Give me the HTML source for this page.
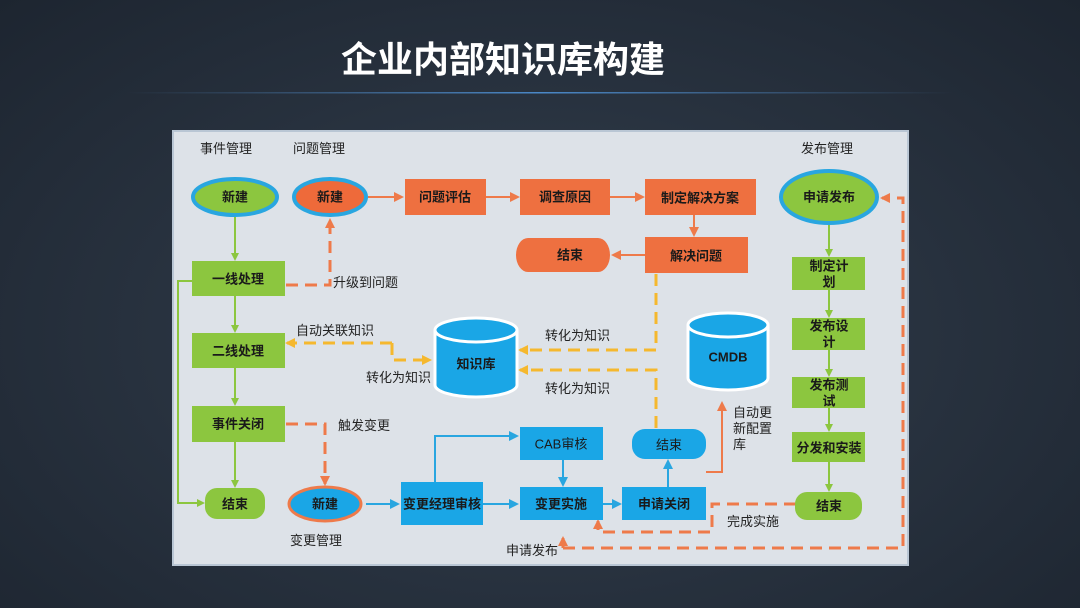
<!DOCTYPE html>
<html><head><meta charset="utf-8"><style>
html,body{margin:0;padding:0;width:1080px;height:608px;overflow:hidden;background:#222d3a}
body{background:radial-gradient(ellipse at 50% 55%,#34414f 0%,#28323f 50%,#1d2530 100%)}
svg{position:absolute;left:0;top:0}
text{font-family:"Liberation Sans","Noto Sans CJK SC",sans-serif}
.b{font-weight:bold;font-size:13px;text-anchor:middle;dominant-baseline:central;fill:#1a1a1a}
.l{font-size:13px;fill:#222}
</style></head><body>
<svg width="1080" height="608" viewBox="0 0 1080 608">
<defs>
<linearGradient id="ul" x1="0" x2="1"><stop offset="0" stop-color="#4a78a8" stop-opacity="0"/><stop offset="0.5" stop-color="#4a88c8"/><stop offset="1" stop-color="#4a78a8" stop-opacity="0"/></linearGradient>
<marker id="ag" markerWidth="8" markerHeight="8" refX="6" refY="4" orient="auto" markerUnits="userSpaceOnUse"><path d="M0,0 L8,4 L0,8z" fill="#8cc63f"/></marker>
<marker id="ao" markerWidth="10" markerHeight="10" refX="8" refY="5" orient="auto" markerUnits="userSpaceOnUse"><path d="M0,0 L10,5 L0,10z" fill="#ee7a4a"/></marker>
<marker id="ay" markerWidth="10" markerHeight="10" refX="8" refY="5" orient="auto" markerUnits="userSpaceOnUse"><path d="M0,0 L10,5 L0,10z" fill="#f5b82e"/></marker>
<marker id="ab" markerWidth="10" markerHeight="10" refX="8" refY="5" orient="auto" markerUnits="userSpaceOnUse"><path d="M0,0 L10,5 L0,10z" fill="#29a6e0"/></marker>
</defs>
<text x="503" y="72" font-size="36" font-weight="bold" fill="#fff" text-anchor="middle">企业内部知识库构建</text>
<rect x="125" y="92" width="830" height="1.5" fill="url(#ul)"/>
<rect x="173" y="131" width="735" height="434" fill="#dde2e8" stroke="#b9c6d4" stroke-width="2"/>

<text class="l" x="200" y="153">事件管理</text>
<text class="l" x="293" y="153">问题管理</text>
<text class="l" x="801" y="153">发布管理</text>

<g stroke="#8cc63f" stroke-width="2" fill="none" marker-end="url(#ag)">
<line x1="235" y1="217" x2="235" y2="259"/>
<line x1="235" y1="296" x2="235" y2="331"/>
<line x1="235" y1="368" x2="235" y2="404"/>
<line x1="235" y1="442" x2="235" y2="486"/>
<polyline points="192,281 178,281 178,503 203,503"/>
<line x1="829" y1="224" x2="829" y2="255"/>
<line x1="829" y1="290" x2="829" y2="316"/>
<line x1="829" y1="350" x2="829" y2="375"/>
<line x1="829" y1="408" x2="829" y2="430"/>
<line x1="829" y1="462" x2="829" y2="490"/>
</g>
<g stroke="#ee7a4a" stroke-width="2" fill="none" marker-end="url(#ao)">
<line x1="368" y1="197" x2="402" y2="197"/>
<line x1="486" y1="197" x2="518" y2="197"/>
<line x1="610" y1="197" x2="643" y2="197"/>
<line x1="694" y1="215" x2="694" y2="235"/>
<line x1="645" y1="255" x2="613" y2="255"/>
<polyline points="706,472 722,472 722,403"/>
</g>
<g stroke="#ee7a4a" stroke-width="3" fill="none" stroke-dasharray="12,7" marker-end="url(#ao)">
<polyline points="286,285 330,285 330,220"/>
<polyline points="286,424 325,424 325,484"/>
<polyline points="796,504 712,504 712,532 598,532 598,521"/>
<polyline points="563,548 903,548 903,198 882,198"/>
<polyline points="563,548 563,538"/>
</g>
<g stroke="#f5b82e" stroke-width="3" fill="none" stroke-dasharray="12,7" marker-end="url(#ay)">
<polyline points="656,274 656,350 520,350"/>
<polyline points="656,428 656,370 520,370"/>
<polyline points="392,343 392,360 430,360"/>
<polyline points="392,343 287,343"/>
</g>
<g stroke="#29a6e0" stroke-width="2" fill="none" marker-end="url(#ab)">
<line x1="366" y1="504" x2="398" y2="504"/>
<line x1="483" y1="504" x2="517" y2="504"/>
<polyline points="435,482 435,436 517,436"/>
<line x1="563" y1="460" x2="563" y2="485"/>
<line x1="603" y1="504" x2="620" y2="504"/>
<line x1="668" y1="487" x2="668" y2="461"/>
</g>

<ellipse cx="235" cy="197" rx="42" ry="18" fill="#8cc63f" stroke="#29a6e0" stroke-width="4"/>
<text class="b" x="235" y="197">新建</text>
<rect x="192" y="261" width="93" height="35" fill="#8cc63f"/><text class="b" x="238" y="279">一线处理</text>
<rect x="192" y="333" width="93" height="35" fill="#8cc63f"/><text class="b" x="238" y="351">二线处理</text>
<rect x="192" y="406" width="93" height="36" fill="#8cc63f"/><text class="b" x="238" y="424">事件关闭</text>
<rect x="205" y="488" width="60" height="31" rx="12" fill="#8cc63f"/><text class="b" x="235" y="504">结束</text>

<ellipse cx="829" cy="197" rx="48" ry="26" fill="#8cc63f" stroke="#29a6e0" stroke-width="4"/>
<text class="b" x="829" y="197">申请发布</text>
<rect x="792" y="257" width="73" height="33" fill="#8cc63f"/><text class="b" x="829" y="266">制定计</text><text class="b" x="829" y="282">划</text>
<rect x="792" y="318" width="73" height="32" fill="#8cc63f"/><text class="b" x="829" y="326">发布设</text><text class="b" x="829" y="342">计</text>
<rect x="792" y="377" width="73" height="31" fill="#8cc63f"/><text class="b" x="829" y="385">发布测</text><text class="b" x="829" y="401">试</text>
<rect x="792" y="432" width="73" height="30" fill="#8cc63f"/><text class="b" x="829" y="448">分发和安装</text>
<rect x="795" y="492" width="67" height="28" rx="12" fill="#8cc63f"/><text class="b" x="829" y="506">结束</text>

<ellipse cx="330" cy="197" rx="36" ry="18" fill="#ee6a3a" stroke="#29a6e0" stroke-width="4"/>
<text class="b" x="330" y="197">新建</text>
<rect x="405" y="179" width="81" height="36" fill="#ee7040"/><text class="b" x="445" y="197">问题评估</text>
<rect x="520" y="179" width="90" height="36" fill="#ee7040"/><text class="b" x="565" y="197">调查原因</text>
<rect x="645" y="179" width="111" height="36" fill="#ee7040"/><text class="b" x="700" y="198">制定解决方案</text>
<path d="M528,238 H598 A12,17 0 0 1 598,272 H528 A12,17 0 0 1 528,238Z" fill="#ee7040"/><text class="b" x="570" y="255">结束</text>
<rect x="645" y="237" width="103" height="36" fill="#ee7040"/><text class="b" x="696" y="256">解决问题</text>

<ellipse cx="325" cy="504" rx="36" ry="17" fill="#1aa6e6" stroke="#ee7a4a" stroke-width="3"/>
<text class="b" x="325" y="504">新建</text>
<rect x="401" y="482" width="82" height="43" fill="#1aa6e6"/><text class="b" x="442" y="504">变更经理审核</text>
<rect x="520" y="427" width="83" height="33" fill="#1aa6e6"/><text class="b" x="561" y="444" style="font-weight:normal">CAB审核</text>
<rect x="520" y="487" width="83" height="33" fill="#1aa6e6"/><text class="b" x="561" y="504">变更实施</text>
<rect x="622" y="487" width="84" height="33" fill="#1aa6e6"/><text class="b" x="664" y="504">申请关闭</text>
<rect x="632" y="429" width="74" height="30" rx="13" fill="#1aa6e6"/><text class="b" x="669" y="445" style="font-weight:normal">结束</text>

<g fill="#1aa6e6" stroke="#fff" stroke-width="3">
<path d="M435,330 V385 A41,12 0 0 0 517,385 V330"/>
<ellipse cx="476" cy="330" rx="41" ry="12"/>
<path d="M688,325 V378 A40,12 0 0 0 768,378 V325"/>
<ellipse cx="728" cy="325" rx="40" ry="12"/>
</g>
<text class="b" x="476" y="364">知识库</text>
<text class="b" x="728" y="357">CMDB</text>

<text class="l" x="333" y="287">升级到问题</text>
<text class="l" x="296" y="335">自动关联知识</text>
<text class="l" x="366" y="382">转化为知识</text>
<text class="l" x="545" y="340">转化为知识</text>
<text class="l" x="545" y="393">转化为知识</text>
<text class="l" x="338" y="430">触发变更</text>
<text class="l" x="290" y="545">变更管理</text>
<text class="l" x="506" y="555">申请发布</text>
<text class="l" x="727" y="526">完成实施</text>
<text class="l" x="733" y="417">自动更</text>
<text class="l" x="733" y="433">新配置</text>
<text class="l" x="733" y="449">库</text>
</svg>
</body></html>
